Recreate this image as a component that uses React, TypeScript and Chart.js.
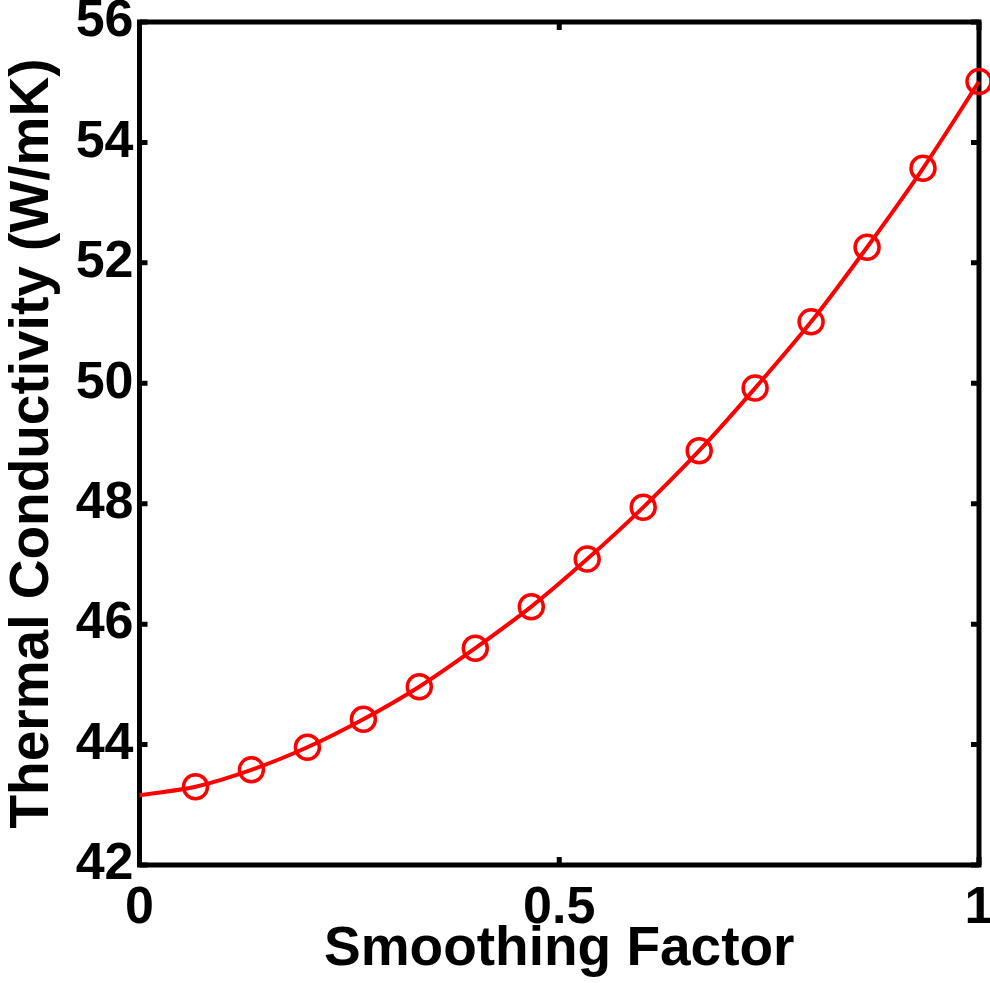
import React, { useEffect, useRef } from 'react';
import { Chart, registerables } from 'chart.js';
Chart.register(...registerables);

const smoothingFactor = [0.0667, 0.1333, 0.2, 0.2667, 0.3333, 0.4, 0.4667, 0.5333, 0.6, 0.6667, 0.7333, 0.8, 0.8667, 0.9333, 1.0];
const conductivity = [43.30, 43.58, 43.955, 44.42, 44.96, 45.60, 46.29, 47.08, 47.94, 48.88, 49.92, 51.02, 52.26, 53.57, 55.01];
const lineStartX = [0];
const lineStartY = [43.16];
const xTicks = [0, 0.5, 1];
const yTicks = [42, 44, 46, 48, 50, 52, 54, 56];
const xTitle = 'Smoothing Factor';
const yTitle = 'Thermal Conductivity (W/mK)';

const FONT = "'Liberation Sans', Arial, sans-serif";

const framePlugin = {
  id: 'frame',
  beforeDatasetsDraw(chart: any) {
    const { ctx, chartArea } = chart;
    const { left, right, top, bottom } = chartArea;
    const xs = chart.scales.x;
    const ys = chart.scales.y;
    const tl = 8;
    ctx.save();
    ctx.strokeStyle = '#000';
    ctx.lineWidth = 5;
    ctx.lineCap = 'butt';
    ctx.beginPath();
    yTicks.forEach((v) => {
      const py = ys.getPixelForValue(v);
      ctx.moveTo(left, py);
      ctx.lineTo(left + tl, py);
      ctx.moveTo(right, py);
      ctx.lineTo(right - tl, py);
    });
    xTicks.forEach((v) => {
      const px = xs.getPixelForValue(v);
      ctx.moveTo(px, bottom);
      ctx.lineTo(px, bottom - tl);
      ctx.moveTo(px, top);
      ctx.lineTo(px, top + tl);
    });
    ctx.stroke();
    ctx.lineJoin = 'miter';
    ctx.strokeRect(left, top, right - left, bottom - top);
    ctx.restore();
  },
};

export default function App() {
  const ref = useRef<HTMLCanvasElement>(null);
  useEffect(() => {
    document.body.style.margin = '0';
    const lineData = [
      ...lineStartX.map((x, i) => ({ x, y: lineStartY[i] })),
      ...smoothingFactor.map((x, i) => ({ x, y: conductivity[i] })),
    ];
    const markerData = smoothingFactor.map((x, i) => ({ x, y: conductivity[i] }));
    const chart = new Chart(ref.current!, {
      type: 'line',
      data: {
        datasets: [
          {
            data: lineData,
            borderColor: '#ff0000',
            borderWidth: 4,
            pointRadius: 0,
            cubicInterpolationMode: 'monotone',
            fill: false,
            clip: false as any,
          },
          {
            data: markerData,
            showLine: false,
            borderColor: '#ff0000',
            backgroundColor: 'rgba(0,0,0,0)',
            pointRadius: 12,
            pointBorderWidth: 3.5,
            pointStyle: 'circle',
            clip: false as any,
          },
        ],
      },
      options: {
        animation: false,
        responsive: false,
        events: [],
        layout: { autoPadding: false, padding: { left: 0, top: 22, right: 11, bottom: 0 } },
        plugins: { legend: { display: false }, tooltip: { enabled: false } },
        scales: {
          x: {
            type: 'linear',
            min: 0,
            max: 1,
            afterBuildTicks: (s: any) => { s.ticks = xTicks.map((v) => ({ value: v })); },
            afterFit: (s: any) => { s.height = 118; s.paddingLeft = 0; s.paddingRight = 0; },
            grid: { display: false, drawTicks: false },
            border: { display: false },
            ticks: {
              padding: 12,
              color: '#000',
              font: { family: FONT, size: 52, weight: 'bold' },
              maxRotation: 0,
              autoSkip: false,
              callback: (v: any) => String(v),
            },
            title: {
              display: true,
              text: xTitle,
              color: '#000',
              font: { family: FONT, size: 55, weight: 'bold' },
              padding: { top: 0, bottom: 0 },
            },
          },
          y: {
            type: 'linear',
            min: 42,
            max: 56,
            afterBuildTicks: (s: any) => { s.ticks = yTicks.map((v) => ({ value: v })); },
            afterFit: (s: any) => { s.width = 139.5; s.paddingTop = 0; s.paddingBottom = 0; },
            grid: { display: false, drawTicks: false },
            border: { display: false },
            ticks: {
              padding: 6,
              color: '#000',
              font: { family: FONT, size: 52, weight: 'bold' },
              autoSkip: false,
              callback: (v: any) => String(v),
            },
            title: {
              display: true,
              text: yTitle,
              color: '#000',
              font: { family: FONT, size: 55, weight: 'bold' },
              padding: { top: 0, bottom: 0 },
            },
          },
        },
      },
      plugins: [framePlugin],
    });
    return () => chart.destroy();
  }, []);
  return <canvas ref={ref} width={990} height={983} style={{ display: 'block' }} />;
}
